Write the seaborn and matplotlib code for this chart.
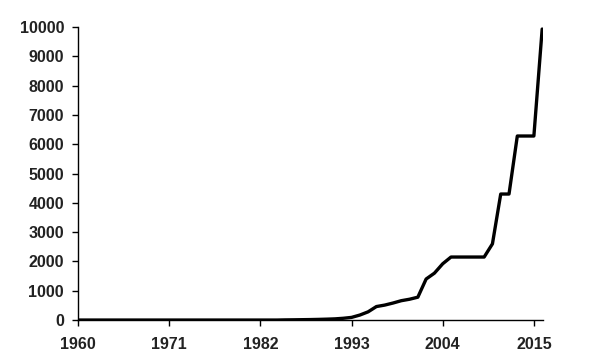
import pandas as pd
import matplotlib
matplotlib.use("Agg")
import matplotlib.pyplot as plt
import seaborn as sns

years = list(range(1960, 2017))
# values, 1960..2016
values = (
    [0] * 25
    + [5, 8, 12, 16, 22, 30, 40, 60, 90]            # 1985-1993
    + [170, 280, 460, 510, 580, 660, 710, 780]      # 1994-2001
    + [1400, 1600, 1920, 2150, 2150, 2150, 2150, 2150]  # 2002-2009
    + [2600, 4300, 4300, 6280, 6280, 6280, 9930]    # 2010-2016
)
x_ticks = [1960, 1971, 1982, 1993, 2004, 2015]

df = pd.DataFrame({"year": years, "value": values})

sns.set_style("ticks")
plt.rcParams["font.family"] = ["Liberation Sans", "DejaVu Sans"]

fig = plt.figure(figsize=(6, 3.6), dpi=100)
ax = fig.add_axes([0.13, 0.111, 0.775, 0.814])
sns.lineplot(data=df, x="year", y="value", color="black", linewidth=2.4, ax=ax)

ax.set_xlim(1960, 2016.1)
ax.set_ylim(0, 10000)
ax.set_xticks(x_ticks)
ax.set_yticks(range(0, 10001, 1000))
ax.set_xlabel("")
ax.set_ylabel("")
sns.despine(ax=ax)
for s in ["left", "bottom"]:
    ax.spines[s].set_linewidth(1.0)
    ax.spines[s].set_color("black")
ax.tick_params(axis="both", length=4, width=1, color="black", labelsize=11.5)
ax.tick_params(axis="x", pad=8)
ax.tick_params(axis="y", pad=6)
for lab in ax.get_xticklabels() + ax.get_yticklabels():
    lab.set_fontweight("bold")
    lab.set_color("#222222")

fig.savefig("out.png", dpi=100)
